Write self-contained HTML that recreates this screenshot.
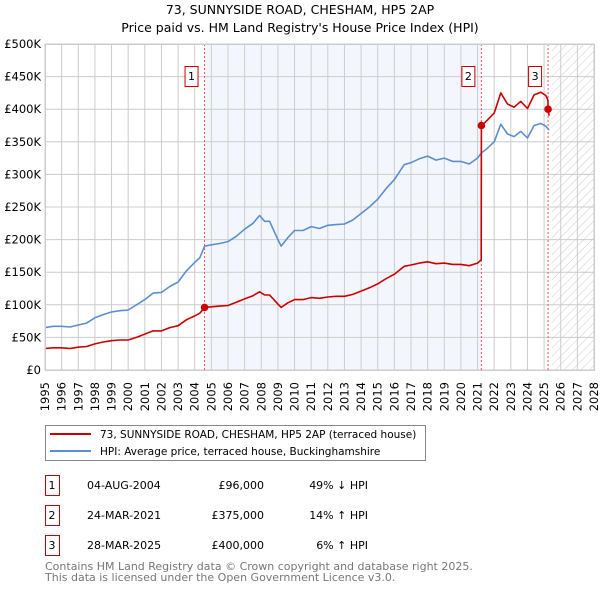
<!DOCTYPE html>
<html><head><meta charset="utf-8"><style>
body{margin:0;background:#fff;font-family:"DejaVu Sans","Liberation Sans",sans-serif;}
svg{display:block}
</style></head><body>
<svg id="chart" width="600" height="590" xmlns="http://www.w3.org/2000/svg" font-family="DejaVu Sans, Liberation Sans, sans-serif">
<defs>
<pattern id="hatch" width="6" height="6" patternUnits="userSpaceOnUse" patternTransform="rotate(45)"><line x1="0" y1="0" x2="0" y2="6" stroke="#ccc" stroke-width="1"/></pattern>
</defs>
<text x="300" y="14" text-anchor="middle" font-size="12.5" fill="#000">73, SUNNYSIDE ROAD, CHESHAM, HP5 2AP</text>
<text x="300" y="32" text-anchor="middle" font-size="12.5" fill="#000">Price paid vs. HM Land Registry's House Price Index (HPI)</text>
<g id="plot"></g>
<g>
<rect x="45.5" y="425.5" width="380" height="35" fill="#fff" stroke="#888"/>
<line x1="50" y1="434" x2="91" y2="434" stroke="#cc0000" stroke-width="2"/>
<text x="100" y="438" font-size="10.5">73, SUNNYSIDE ROAD, CHESHAM, HP5 2AP (terraced house)</text>
<line x1="50" y1="451" x2="91" y2="451" stroke="#5b8fd0" stroke-width="2"/>
<text x="100" y="455" font-size="10.5">HPI: Average price, terraced house, Buckinghamshire</text>
</g>
<g id="table" font-size="11"></g>
<text x="45" y="570" font-size="11" fill="#777">Contains HM Land Registry data © Crown copyright and database right 2025.</text>
<text x="45" y="581" font-size="11" fill="#777">This data is licensed under the Open Government Licence v3.0.</text>
</svg>
<script>
const hpiYears=[1995.0,1995.5,1996.0,1996.5,1997.0,1997.5,1998.0,1998.5,1999.0,1999.5,2000.0,2000.5,2001.0,2001.5,2002.0,2002.5,2003.0,2003.5,2004.0,2004.3,2004.6,2005.0,2005.5,2006.0,2006.5,2007.0,2007.5,2007.9,2008.2,2008.5,2009.0,2009.2,2009.6,2010.0,2010.5,2011.0,2011.5,2012.0,2012.5,2013.0,2013.5,2014.0,2014.5,2015.0,2015.5,2016.0,2016.6,2017.0,2017.5,2018.0,2018.5,2019.0,2019.5,2020.0,2020.5,2021.0,2021.23,2021.5,2022.0,2022.4,2022.8,2023.2,2023.6,2024.0,2024.4,2024.8,2025.1,2025.3];
const hpiValues=[65,67,67,66,69,72,80,85,89,91,92,100,108,118,119,128,135,152,165,172,190,192,194,197,205,216,225,237,228,228,200,190,203,214,214,220,217,222,223,224,230,240,250,262,278,292,315,318,324,328,322,325,320,320,316,325,333,338,350,377,362,358,366,356,375,378,374,368];
const priceYears=[1995.0,1995.5,1996.0,1996.5,1997.0,1997.5,1998.0,1998.5,1999.0,1999.5,2000.0,2000.5,2001.0,2001.5,2002.0,2002.5,2003.0,2003.5,2004.0,2004.3,2004.6,2005.0,2005.5,2006.0,2006.5,2007.0,2007.5,2007.9,2008.2,2008.5,2009.0,2009.2,2009.6,2010.0,2010.5,2011.0,2011.5,2012.0,2012.5,2013.0,2013.5,2014.0,2014.5,2015.0,2015.5,2016.0,2016.6,2017.0,2017.5,2018.0,2018.5,2019.0,2019.5,2020.0,2020.5,2021.0,2021.22,2021.23,2021.5,2022.0,2022.4,2022.8,2023.2,2023.6,2024.0,2024.4,2024.8,2025.1,2025.23,2025.24,2025.3];
const priceValues=[33,34,34,33,35,36,40,43,45,46,46,50,55,60,60,65,68,77,83,87,96,97,98,99,104,109,114,120,115,115,101,96,103,108,108,111,110,112,113,113,116,121,126,132,140,147,159,161,164,166,163,164,162,162,160,164,169,375,381,394,425,408,403,412,401,422,426,421,414,400,390];
const saleYears=[2004.59,2021.23,2025.24];
const saleValues=[96,375,400];
const saleLabels=["1","2","3"];
const saleDates=["04-AUG-2004","24-MAR-2021","28-MAR-2025"];
const salePrices=["£96,000","£375,000","£400,000"];
const saleHpi=["49% ↓ HPI","14% ↑ HPI","6% ↑ HPI"];
const yTicks=[0,50,100,150,200,250,300,350,400,450,500];
const yTickLabels=["£0","£50K","£100K","£150K","£200K","£250K","£300K","£350K","£400K","£450K","£500K"];
const xTicks=[1995,1996,1997,1998,1999,2000,2001,2002,2003,2004,2005,2006,2007,2008,2009,2010,2011,2012,2013,2014,2015,2016,2017,2018,2019,2020,2021,2022,2023,2024,2025,2026,2027,2028];
const forecastStart=2025.45;

const X0=45,X1=594,Y0=370,Y1=44;
const xs=y=>X0+(y-1995)/(2028-1995)*(X1-X0);
const ys=v=>Y0-v/500*(Y0-Y1);
const NS="http://www.w3.org/2000/svg";
function mk(tag,attrs,parent){const e=document.createElementNS(NS,tag);for(const k in attrs)e.setAttribute(k,attrs[k]);parent.appendChild(e);return e;}
const plot=document.getElementById('plot');

let r=mk('rect',{x:xs(saleYears[0]),y:Y1,width:xs(saleYears[1])-xs(saleYears[0]),height:Y0-Y1,fill:'#eef3fc',opacity:0.7},plot);


r=mk('rect',{x:xs(forecastStart),y:Y1,width:X1-xs(forecastStart),height:Y0-Y1,fill:'url(#hatch)'},plot);



xTicks.forEach(t=>{
  const l=mk('line',{x1:xs(t),x2:xs(t),y1:Y1,y2:Y0,stroke:'#ccc','stroke-width':1},plot);
  
  
  const tx=mk('text',{transform:`translate(${xs(t)+4},${Y0+12}) rotate(-90)`,'text-anchor':'end','font-size':'11.5',fill:'#000'},plot);
  tx.textContent=t;
  
  
});
yTicks.forEach((t,i)=>{
  const l=mk('line',{x1:X0,x2:X1,y1:ys(t),y2:ys(t),stroke:'#ccc','stroke-width':1},plot);
  
  
  const tx=mk('text',{x:41,y:ys(t)+4,'text-anchor':'end','font-size':'11.5',fill:'#000'},plot);
  tx.textContent=yTickLabels[i];
  
  
});

saleYears.forEach((s,i)=>{
  const l=mk('line',{x1:xs(s),x2:xs(s),y1:Y1,y2:Y0,stroke:'#e55','stroke-width':1,'stroke-dasharray':'2,2'},plot);
  
  
});

function path(xa,va,color,name){
  const d=xa.map((x,i)=>(i?'L':'M')+xs(x).toFixed(1)+','+ys(va[i]).toFixed(1)).join('');
  const p=mk('path',{d:d,fill:'none',stroke:color,'stroke-width':1.6,'stroke-linejoin':'round'},plot);
  
  
}
path(hpiYears,hpiValues,'#5b8fd0','hpi-line');
path(priceYears,priceValues,'#cc0000','price-line');

saleYears.forEach((s,i)=>{
  const c=mk('circle',{cx:xs(s),cy:ys(saleValues[i]),r:3.8,fill:'#cc0000'},plot);
  
  
  const bx=xs(s)-20;
  const b=mk('rect',{x:bx+0.5,y:66.5,width:13,height:20,fill:'#fff',stroke:'#cc0000'},plot);
  
  
  const t=mk('text',{x:bx+7,y:80,'text-anchor':'middle','font-size':'11'},plot);
  t.textContent=saleLabels[i];
  
  
});
const fr=mk('rect',{x:X0+0.5,y:Y1+0.5,width:X1-X0,height:Y0-Y1,fill:'none',stroke:'#ccc'},plot);



const tbl=document.getElementById('table');
saleLabels.forEach((lab,i)=>{
  const y0=475+i*30;
  const b=mk('rect',{x:45.5,y:y0+0.5,width:14,height:20,fill:'#fff',stroke:'#cc0000'},tbl);
  
  
  const cells=[[52,lab,'middle','table-row-number'],[87,saleDates[i],'start','table-row-date'],[264,salePrices[i],'end','table-row-price'],[368,saleHpi[i],'end','table-row-hpi']];
  cells.forEach(c=>{
    const t=mk('text',{x:c[0],y:y0+14,'text-anchor':c[2],'font-size':'11'},tbl);
    t.textContent=c[1];
    
    
  });
});
</script>
</body></html>
